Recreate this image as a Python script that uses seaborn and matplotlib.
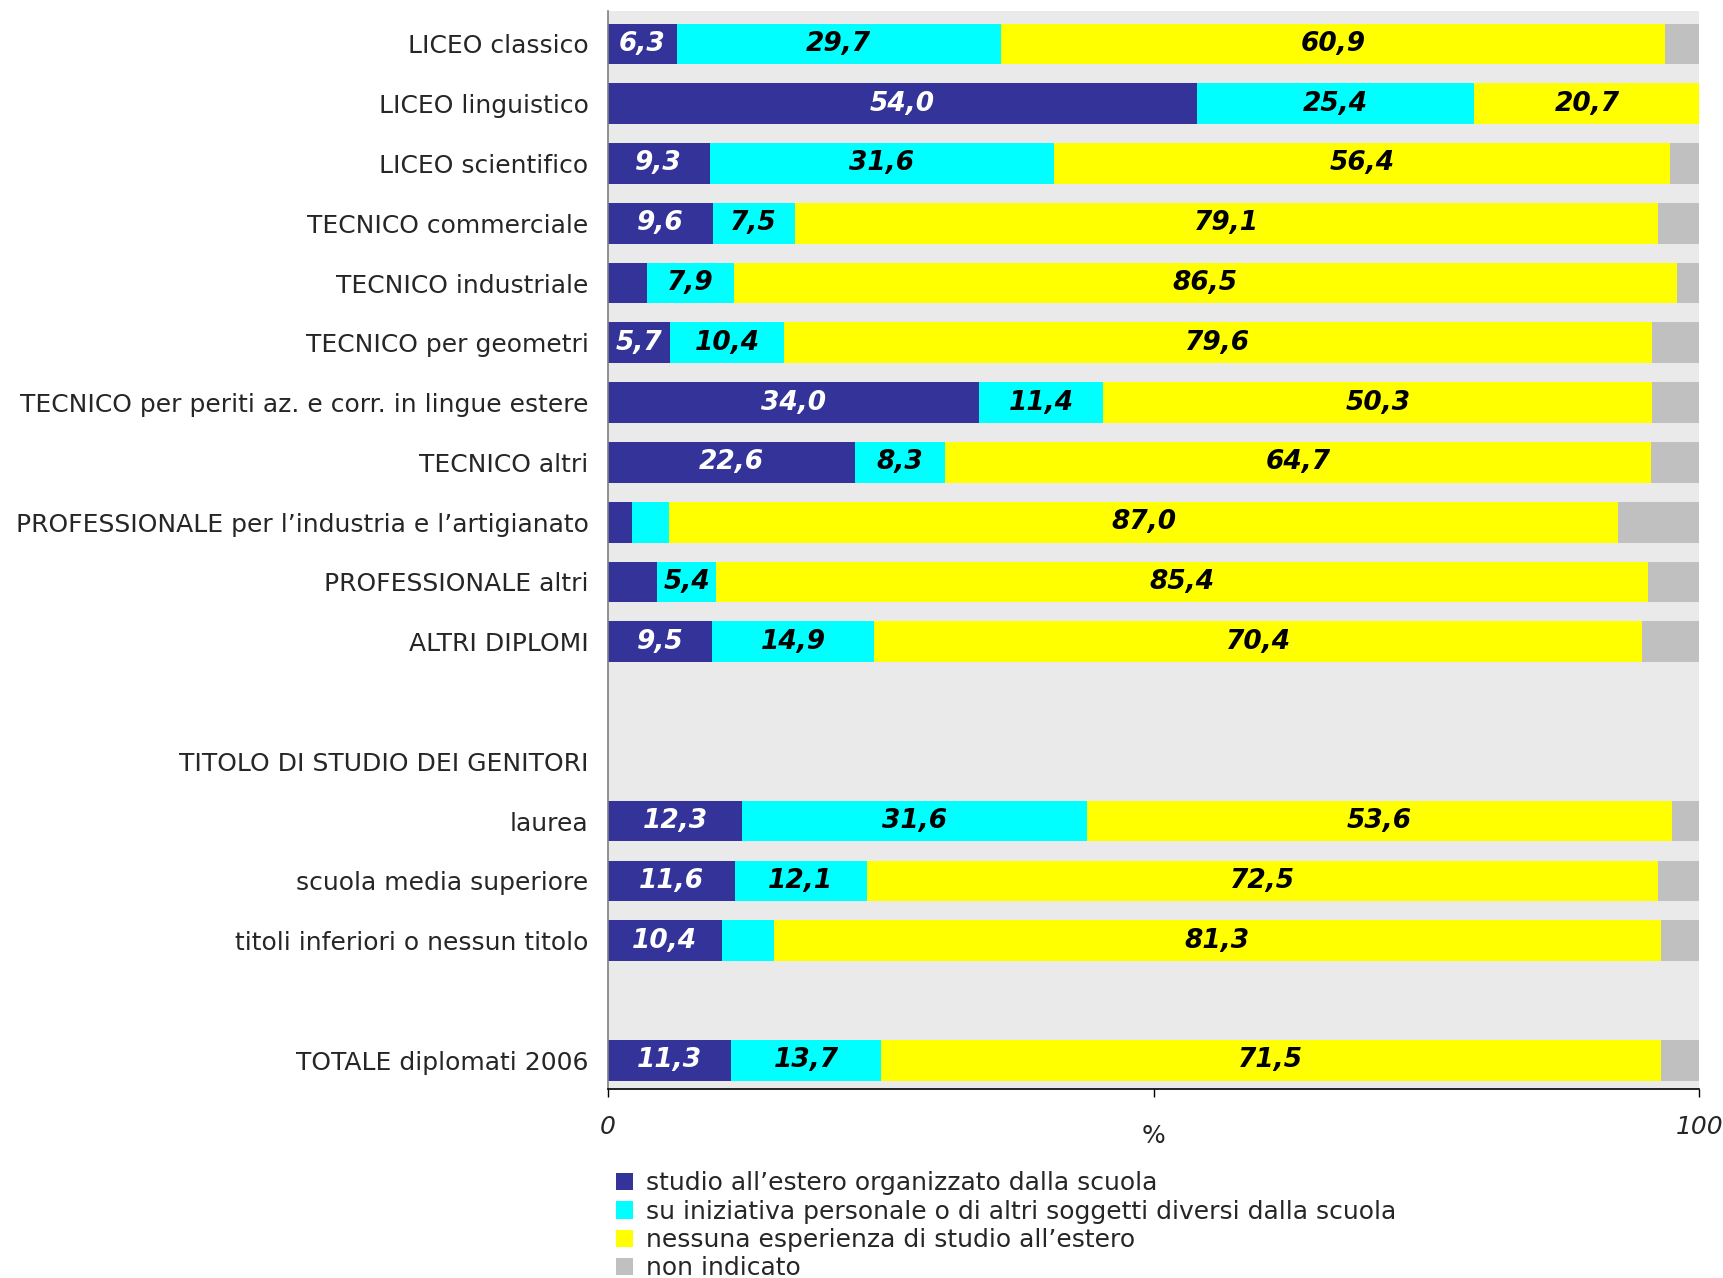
import numpy as np
import pandas as pd
import matplotlib
matplotlib.use("Agg")
import matplotlib.pyplot as plt
import seaborn as sns
from matplotlib.patches import Patch

categories = [
    "LICEO classico", "LICEO linguistico", "LICEO scientifico",
    "TECNICO commerciale", "TECNICO industriale", "TECNICO per geometri",
    "TECNICO per periti az. e corr. in lingue estere", "TECNICO altri",
    "PROFESSIONALE per l’industria e l’artigianato", "PROFESSIONALE altri",
    "ALTRI DIPLOMI", " ", "TITOLO DI STUDIO DEI GENITORI", "laurea",
    "scuola media superiore", "titoli inferiori o nessun titolo", "  ",
    "TOTALE diplomati 2006",
]
scuola = [6.3, 54.0, 9.3, 9.6, 3.6, 5.7, 34.0, 22.6, 2.2, 4.5, 9.5,
          None, None, 12.3, 11.6, 10.4, None, 11.3]
personale = [29.7, 25.4, 31.6, 7.5, 7.9, 10.4, 11.4, 8.3, 3.4, 5.4, 14.9,
             None, None, 31.6, 12.1, 4.8, None, 13.7]
nessuna = [60.9, 20.7, 56.4, 79.1, 86.5, 79.6, 50.3, 64.7, 87.0, 85.4, 70.4,
           None, None, 53.6, 72.5, 81.3, None, 71.5]
non_indicato = [3.1, 0.0, 2.7, 3.8, 2.0, 4.3, 4.3, 4.4, 7.4, 4.7, 5.2,
                None, None, 2.5, 3.8, 3.5, None, 3.5]
series_names = [
    "studio all’estero organizzato dalla scuola",
    "su iniziativa personale o di altri soggetti diversi dalla scuola",
    "nessuna esperienza di studio all’estero",
    "non indicato",
]
colors = ["#333399", "#00FFFF", "#FFFF00", "#C0C0C0"]
label_colors = ["white", "black", "black"]
x_ticks = [0, 50, 100]
x_ticklabels = ["0", "", "100"]

sns.set_style("white")
plt.rcParams["font.family"] = ["DejaVu Sans"]

fig = plt.figure(figsize=(17.24, 12.78), dpi=100)
ax = fig.add_axes([0.3527, 0.1479, 0.6329, 0.8435])
ax.set_facecolor("#EAEAEA")

vals = np.array([[np.nan if v is None else v for v in s]
                 for s in [scuola, personale, nessuna, non_indicato]])
cum = np.nancumsum(vals, axis=0)

df = pd.DataFrame({"categoria": categories})
for i in reversed(range(4)):
    df["cum"] = cum[i]
    sns.barplot(data=df, x="cum", y="categoria", order=categories, orient="h",
                color=colors[i], saturation=1, width=0.68, errorbar=None,
                linewidth=0, ax=ax)

for i in range(3):
    for r, v in enumerate(vals[i]):
        if np.isnan(v) or v < 5:
            continue
        start = cum[i][r] - v
        ax.text(start + v / 2, r, f"{v:.1f}".replace(".", ","),
                ha="center", va="center", fontsize=19, fontweight="bold",
                fontstyle="italic", color=label_colors[i])

ax.set_xlim(0, 100)
ax.set_ylim(len(categories) - 0.52, -0.55)
ax.set_xlabel("")
ax.set_ylabel("")
ax.set_xticks(x_ticks)
ax.set_xticklabels(x_ticklabels, fontstyle="italic", fontsize=18)
ax.tick_params(axis="x", bottom=True, length=6, width=1, color="black",
               direction="out", pad=13)
ax.tick_params(axis="y", left=False, length=0, pad=14, labelsize=18)
for s in ["top", "right"]:
    ax.spines[s].set_visible(False)
ax.spines["left"].set_color("#808080")
ax.spines["left"].set_linewidth(1.2)
ax.spines["bottom"].set_color("black")
ax.spines["bottom"].set_linewidth(1.2)
ax.grid(False)

ax.text(0.5, -0.044, "%", transform=ax.transAxes, ha="center", va="center",
        fontsize=18)

handles = [Patch(facecolor=c, edgecolor="none") for c in colors]
fig.legend(handles, series_names, loc="upper left",
           bbox_to_anchor=(0.3573, 0.0835), frameon=False, fontsize=18,
           handlelength=0.7, handleheight=0.7, handletextpad=0.5,
           labelspacing=0.175, borderpad=0, borderaxespad=0)

fig.savefig("out.png", dpi=100)
